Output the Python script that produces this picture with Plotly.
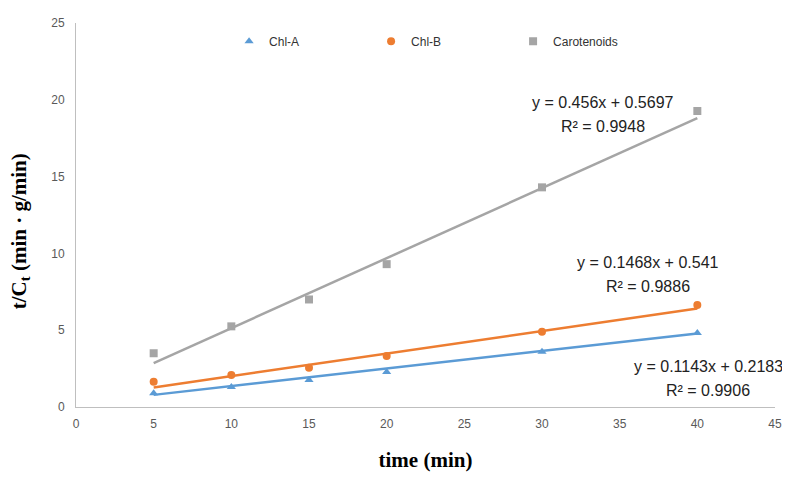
import plotly.graph_objects as go

time_min = [5, 10, 15, 20, 30, 40]
chl_a = [0.9, 1.3, 1.76, 2.28, 3.6, 4.82]
chl_b = [1.65, 2.08, 2.55, 3.32, 4.9, 6.64]
carotenoids = [3.5, 5.25, 7.0, 9.3, 14.3, 19.27]

series_names = ["Chl-A", "Chl-B", "Carotenoids"]
series_values = [chl_a, chl_b, carotenoids]
slopes = [0.1143, 0.1468, 0.456]
intercepts = [0.2183, 0.541, 0.5697]
r_squared = [0.9906, 0.9886, 0.9948]
colors = ["#5B9BD5", "#ED7D31", "#A5A5A5"]
symbols = ["triangle-up", "circle", "square"]
# label anchor positions (data coords)
label_pos = [(40.7, 1.86), (36.8, 8.6), (33.9, 19.07)]

fig = go.Figure()
for name, vals, c, s in zip(series_names, series_values, colors, symbols):
    fig.add_trace(go.Scatter(x=time_min, y=vals, mode="markers", name=name,
                             marker=dict(color=c, symbol=s, size=8)))
for name, m, b, c in zip(series_names, slopes, intercepts, colors):
    xs = [time_min[0], time_min[-1]]
    fig.add_trace(go.Scatter(x=xs, y=[m * x + b for x in xs], mode="lines",
                             line=dict(color=c, width=2.5), showlegend=False,
                             hoverinfo="skip"))
lab_font = dict(family="Liberation Sans", size=16, color="#222222")
for m, b, r2, (lx, ly) in zip(slopes, intercepts, r_squared, label_pos):
    fig.add_annotation(x=lx, y=ly, xref="x", yref="y", showarrow=False, yshift=12,
                       text=f"y = {m}x + {b}", font=lab_font)
    fig.add_annotation(x=lx, y=ly, xref="x", yref="y", showarrow=False, yshift=-12,
                       text=f"R² = {r2}", font=lab_font)

# y-axis title (placed as rotated text to match the original's offset)
fig.add_annotation(x=-0.08, y=0.458, xref="paper", yref="paper", showarrow=False,
                   textangle=-90, xanchor="center", yanchor="middle",
                   text="<b>t/C<sub>t</sub> (min · g/min)</b>",
                   font=dict(family="Liberation Serif", size=21, color="black"))

fig.update_layout(
    width=782, height=464,
    margin=dict(l=68, r=15, t=15, b=65, autoexpand=False),
    paper_bgcolor="white", plot_bgcolor="white",
    font=dict(family="Liberation Sans", color="#595959"),
    legend=dict(orientation="h", x=0.219, y=0.99, xanchor="left", yanchor="top",
                font=dict(size=12, color="#333333"), bgcolor="rgba(0,0,0,0)",
                entrywidth=97, itemwidth=30),
    xaxis=dict(range=[0, 45], dtick=5, showgrid=False, zeroline=False,
               showline=True, linecolor="#BFBFBF", linewidth=1, ticks="",
               ticklabelstandoff=6, automargin=False,
               tickfont=dict(size=12, color="#595959"),
               title=dict(text="<b>time (min)</b>", standoff=37,
                          font=dict(family="Liberation Serif", size=21, color="black"))),
    yaxis=dict(range=[0, 25], dtick=5, showgrid=False, zeroline=False,
               showline=True, linecolor="#BFBFBF", linewidth=1, ticks="",
               ticklabelstandoff=8, automargin=False,
               tickfont=dict(size=12, color="#595959")),
)
fig.write_html("out.html")
